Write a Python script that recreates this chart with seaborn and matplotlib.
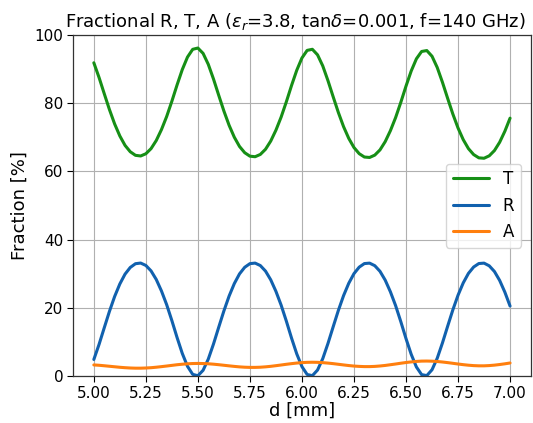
import numpy as np
import pandas as pd
import seaborn as sns
import matplotlib
matplotlib.use('Agg')
import matplotlib.pyplot as plt

# slab thickness grid [mm], 5.00 .. 7.00 in 0.025 steps
d_mm = np.linspace(5.0, 7.0, 81)

# values, in percent
T_pct = [91.88, 87.58, 82.83, 78.16, 73.94, 70.41, 67.65, 65.79, 64.74, 64.55,
         65.20, 66.71, 69.09, 72.29, 76.13, 80.61, 85.39, 89.89, 93.55, 95.83,
         96.21, 94.64, 91.42, 87.12, 82.37, 77.73, 73.55, 70.05, 67.34, 65.51,
         64.49, 64.33, 65.00, 66.52, 68.92, 72.12, 75.96, 80.43, 85.22, 89.68,
         93.30, 95.52, 95.84, 94.21, 90.97, 86.65, 81.92, 77.30, 73.15, 69.70,
         67.03, 65.23, 64.24, 64.11, 64.80, 66.33, 68.75, 71.96, 75.80, 80.27,
         85.04, 89.47, 93.05, 95.20, 95.47, 93.80, 90.51, 86.19, 81.47, 76.87,
         72.76, 69.34, 66.71, 64.96, 64.00, 63.88, 64.60, 66.14, 68.57, 71.80,
         75.64]
R_pct = [4.86, 9.26, 14.15, 18.97, 23.34, 27.02, 29.90, 31.85, 32.95, 33.14,
         32.44, 30.84, 28.32, 24.95, 20.93, 16.26, 11.29, 6.64, 2.86, 0.50,
         0.09, 1.69, 4.98, 9.40, 14.30, 19.11, 23.46, 27.12, 29.97, 31.90,
         32.97, 33.13, 32.41, 30.78, 28.23, 24.84, 20.80, 16.12, 11.14, 6.51,
         2.76, 0.46, 0.11, 1.77, 5.10, 9.55, 14.44, 19.25, 23.59, 27.22,
         30.04, 31.94, 32.99, 33.12, 32.37, 30.72, 28.14, 24.72, 20.67, 15.97,
         10.99, 6.38, 2.66, 0.42, 0.13, 1.84, 5.22, 9.69, 14.59, 19.39,
         23.71, 27.32, 30.11, 31.98, 33.00, 33.12, 32.33, 30.66, 28.05, 24.61,
         20.53]
A_pct = [3.26, 3.16, 3.02, 2.87, 2.72, 2.57, 2.45, 2.36, 2.31, 2.31,
         2.36, 2.45, 2.59, 2.76, 2.94, 3.13, 3.32, 3.47, 3.59, 3.67,
         3.70, 3.67, 3.60, 3.48, 3.33, 3.16, 2.99, 2.83, 2.69, 2.59,
         2.54, 2.54, 2.59, 2.70, 2.85, 3.04, 3.24, 3.45, 3.64, 3.81,
         3.94, 4.02, 4.05, 4.02, 3.93, 3.80, 3.64, 3.45, 3.26, 3.08,
         2.93, 2.83, 2.77, 2.77, 2.83, 2.95, 3.11, 3.32, 3.53, 3.76,
         3.97, 4.15, 4.29, 4.38, 4.40, 4.36, 4.27, 4.12, 3.94, 3.74,
         3.53, 3.34, 3.18, 3.06, 3.00, 3.00, 3.07, 3.20, 3.38, 3.59,
         3.83]

df = pd.concat([
    pd.DataFrame({'d': d_mm, 'val': T_pct, 'kind': 'T'}),
    pd.DataFrame({'d': d_mm, 'val': R_pct, 'kind': 'R'}),
    pd.DataFrame({'d': d_mm, 'val': A_pct, 'kind': 'A'}),
])

sns.set_style('white', {'text.color': 'black', 'axes.labelcolor': 'black',
                        'xtick.color': 'black', 'ytick.color': 'black'})
plt.rcParams['font.family'] = ['DejaVu Sans']

fig, ax = plt.subplots(figsize=(5.33, 4.23), dpi=100)
fig.subplots_adjust(left=0.137, right=0.996, top=0.917, bottom=0.111)

pal = {'T': '#168f16', 'R': '#1161ae', 'A': '#ff7f0e'}
sns.lineplot(data=df, x='d', y='val', hue='kind', palette=pal,
             linewidth=2.2, ax=ax)

ax.set_ylim(0, 100)
ax.set_xticks([5.0, 5.25, 5.5, 5.75, 6.0, 6.25, 6.5, 6.75, 7.0])
ax.set_xticklabels(['5.00', '5.25', '5.50', '5.75', '6.00', '6.25', '6.50', '6.75', '7.00'])
ax.grid(True, color='#b0b0b0', linewidth=0.8)
ax.tick_params(axis='both', labelsize=11, direction='out', length=4, width=0.8,
               pad=3, bottom=True, left=True)
for s in ax.spines.values():
    s.set_color('#333333')
    s.set_linewidth(0.9)

ax.set_xlabel('d [mm]', fontsize=13, labelpad=1)
ax.set_ylabel('Fraction [%]', fontsize=13)
ax.set_title(r'Fractional R, T, A ($\varepsilon_r$=3.8, tan$\delta$=0.001, f=140 GHz)',
             fontsize=13, x=0.485)
ax.legend(loc='center right', fontsize=12, title=None, handlelength=2.2,
          borderaxespad=0.6)

fig.savefig('out.png', dpi=100)
